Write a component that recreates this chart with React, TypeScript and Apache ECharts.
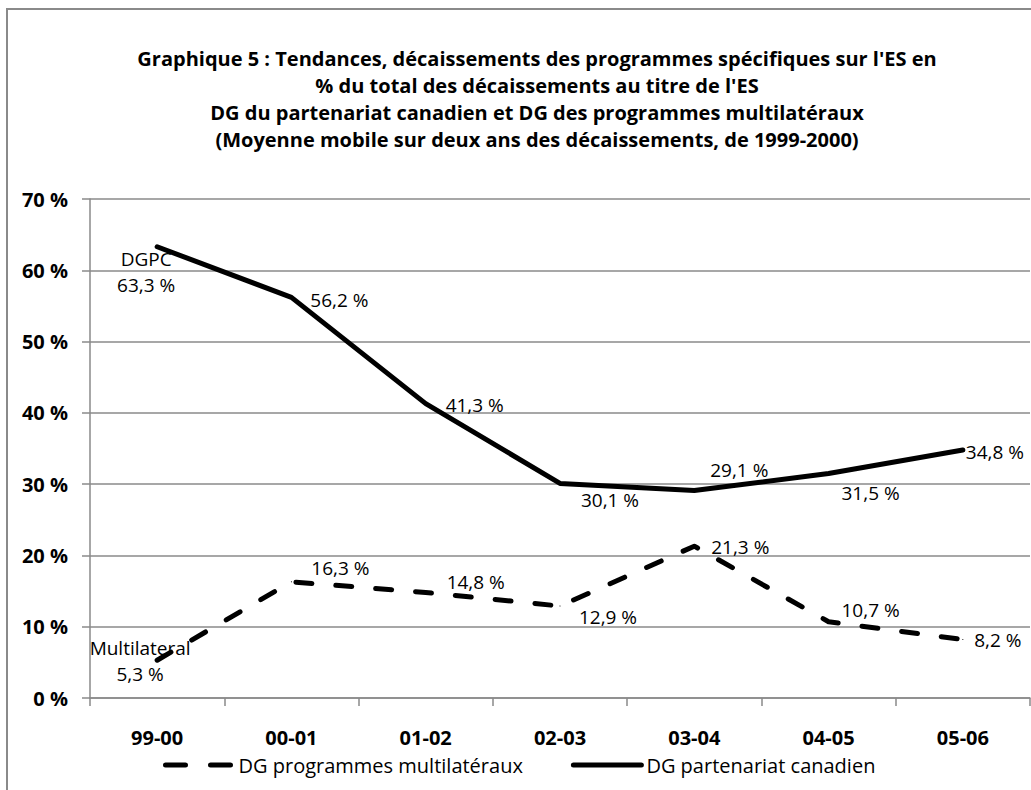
import React, { useEffect, useRef } from "react";
import * as echarts from "echarts";

const categories = ["99-00", "00-01", "01-02", "02-03", "03-04", "04-05", "05-06"];
const dgpcValues = [63.3, 56.2, 41.3, 30.1, 29.1, 31.5, 34.8];
const multiValues = [5.3, 16.3, 14.8, 12.9, 21.3, 10.7, 8.2];
const seriesNames = ["DG programmes multilatéraux", "DG partenariat canadien"];
const firstLabelPrefix = ["Multilateral", "DGPC"];
const yMin = 0;
const yMax = 70;
const yInterval = 10;
const titleLines = [
  "Graphique 5 : Tendances, décaissements des programmes spécifiques sur l'ES en",
  "% du total des décaissements au titre de l'ES",
  "DG du partenariat canadien et DG des programmes multilatéraux",
  "(Moyenne mobile sur deux ans des décaissements, de 1999-2000)",
];

// label placement (layout only)
const dgpcLabelOffsets = [[-11, 25], [48, 3], [49, 1], [50, 17], [45, -21], [42, 20], [32, 2]];
const multiLabelOffsets = [[-17, 1], [49, -14], [50, -10], [48, 11], [46, 1], [42, -12], [35, 0]];

const FONT = "'Open Sans', sans-serif";

const fmt = (v: number) => v.toFixed(1).replace(".", ",") + " %";

function buildData(values: number[], offsets: number[][], prefix: string) {
  return values.map((v, i) => ({
    value: v,
    label: {
      show: true,
      position: "inside",
      offset: offsets[i],
      formatter: () => (i === 0 ? prefix + "\n" + fmt(v) : fmt(v)),
    },
  }));
}

export default function App() {
  const ref = useRef<HTMLDivElement>(null);
  useEffect(() => {
    document.body.style.margin = "0";
    if (!ref.current) return;
    const chart = echarts.init(ref.current, undefined, { renderer: "svg" });
    const labelStyle = {
      fontFamily: FONT,
      fontSize: 19,
      color: "#000",
      lineHeight: 26,
      align: "center",
    };
    chart.setOption({
      animation: false,
      backgroundColor: "#fff",
      title: {
        text: titleLines.join("\n"),
        left: 532,
        top: 40,
        textAlign: "center",
        textStyle: {
          fontFamily: FONT,
          fontSize: 20,
          fontWeight: "bold",
          color: "#000",
          lineHeight: 27,
        },
      },
      graphic: [
        {
          type: "rect",
          shape: { x: 7, y: 9, width: 1100, height: 900 },
          style: { fill: "none", stroke: "#8a8a8a", lineWidth: 2 },
          silent: true,
        },
      ],
      grid: { left: 90, top: 199, right: 1, bottom: 92, containLabel: false },
      legend: {
        left: 158,
        top: 750,
        itemWidth: 68,
        itemHeight: 14,
        itemGap: 48,
        textStyle: { fontFamily: FONT, fontSize: 20, color: "#000", lineHeight: 20 },
        itemStyle: { color: "rgba(0,0,0,0)", borderWidth: 0, opacity: 0 },
        data: [
          { name: seriesNames[0], lineStyle: { type: [20, 25], cap: "round", width: 5, color: "#000" } },
          { name: seriesNames[1], lineStyle: { type: "solid", width: 5, color: "#000" } },
        ],
      },
      xAxis: {
        type: "category",
        data: categories,
        boundaryGap: true,
        axisLine: { show: true, lineStyle: { color: "#8a8a8a", width: 1.5 } },
        axisTick: { show: true, length: 8, lineStyle: { color: "#8a8a8a", width: 1.5 } },
        axisLabel: {
          margin: 29,
          fontFamily: FONT,
          fontSize: 20,
          fontWeight: "bold",
          color: "#000",
          lineHeight: 20,
        },
      },
      yAxis: {
        type: "value",
        min: yMin,
        max: yMax,
        interval: yInterval,
        axisLine: { show: true, lineStyle: { color: "#8a8a8a", width: 1.5 } },
        axisTick: { show: true, length: 8, lineStyle: { color: "#8a8a8a", width: 1.5 } },
        splitLine: { show: true, lineStyle: { color: "#8a8a8a", width: 1.5 } },
        axisLabel: {
          margin: 22,
          formatter: (v: number) => v + " %",
          fontFamily: FONT,
          fontSize: 20,
          fontWeight: "bold",
          color: "#000",
        },
      },
      series: [
        {
          name: seriesNames[0],
          type: "line",
          data: buildData(multiValues, multiLabelOffsets, firstLabelPrefix[0]),
          symbol: "circle",
          symbolSize: 1,
          showSymbol: true,
          itemStyle: { color: "#000" },
          lineStyle: { color: "#000", width: 5, type: [16, 24], cap: "round", join: "round" },
          label: labelStyle,
          z: 3,
        },
        {
          name: seriesNames[1],
          type: "line",
          data: buildData(dgpcValues, dgpcLabelOffsets, firstLabelPrefix[1]),
          symbol: "circle",
          symbolSize: 1,
          showSymbol: true,
          itemStyle: { color: "#000" },
          lineStyle: { color: "#000", width: 5, type: "solid", cap: "round", join: "round" },
          label: labelStyle,
          z: 3,
        },
      ],
    });
    return () => chart.dispose();
  }, []);
  return <div ref={ref} style={{ width: 1031, height: 790 }} />;
}
